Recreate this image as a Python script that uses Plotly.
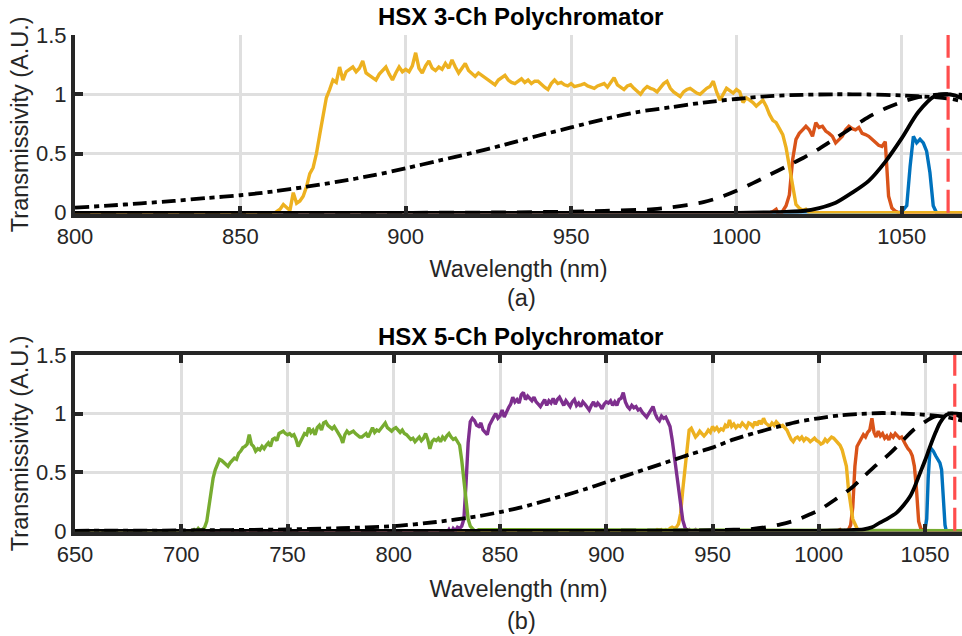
import plotly.graph_objects as go

# ---------------- data: top panel (3-Ch) ----------------
top_yel_start = 856
top_yel_y = [
    0.0, 0.0, 0.0, 0.0, -0.01, 0.01, 0.03, 0.07, 0.04, 0.02,          # 856-865
    0.17, 0.08, 0.10, 0.14, 0.22, 0.33, 0.38, 0.50, 0.66, 0.80,       # 866-875
    0.97, 1.04, 1.12, 1.10, 1.23, 1.12, 1.19, 1.21, 1.23, 1.19,       # 876-885
    1.22, 1.28, 1.18, 1.16, 1.14, 1.12, 1.17, 1.20, 1.23, 1.17,       # 886-895
    1.12, 1.18, 1.23, 1.19, 1.21, 1.19, 1.24, 1.35, 1.22, 1.18,       # 896-905
    1.24, 1.28, 1.22, 1.20, 1.23, 1.21, 1.26, 1.22, 1.29, 1.23,       # 906-915
    1.18, 1.22, 1.26, 1.20, 1.17, 1.15, 1.18, 1.16, 1.14, 1.12,       # 916-925
    1.10, 1.08, 1.12, 1.14, 1.16, 1.12, 1.10, 1.09, 1.11, 1.13,       # 926-935
    1.10, 1.12, 1.09, 1.11, 1.11, 1.08, 1.06, 1.04, 1.09, 1.12,       # 936-945
    1.09, 1.10, 1.08, 1.07, 1.09, 1.065, 1.07, 1.08, 1.09, 1.07,      # 946-955
    1.06, 1.05, 1.07, 1.08, 1.09, 1.06, 1.10, 1.14, 1.08, 1.06,       # 956-965
    1.04, 1.07, 1.08, 1.05, 1.02, 1.00, 1.04, 1.065, 1.05, 1.04,      # 966-975
    1.02, 1.06, 1.09, 1.11, 1.05, 1.02, 1.00, 0.98, 1.02, 1.04,       # 976-985
    1.05, 1.03, 1.01, 1.00, 1.03, 1.05, 1.065, 1.11, 1.02, 0.95,      # 986-995
    1.00, 1.05, 1.03, 1.01, 1.04, 1.02, 0.93, 0.97, 0.95, 0.93,       # 996-1005
    0.90, 0.93, 0.95, 0.90, 0.83, 0.78, 0.76, 0.71, 0.66, 0.55,       # 1006-1015
    0.38, 0.20, 0.07, 0.04, 0.02, 0.03, 0.0, 0.0,                     # 1016-1023
]
top_org_start = 1010
top_org_y = [
    0.0, 0.01, 0.03, -0.03, 0.02, 0.06, 0.15, 0.45, 0.62, 0.67,       # 1010-1019
    0.70, 0.73, 0.70, 0.645, 0.76, 0.72, 0.73, 0.69, 0.67, 0.645,     # 1020-1029
    0.59, 0.62, 0.645, 0.70, 0.73, 0.71, 0.70, 0.72, 0.67, 0.66,      # 1030-1039
    0.645, 0.62, 0.59, 0.57, 0.56, 0.60, 0.14, 0.04, 0.015, 0.0,      # 1040-1049
    -0.01, 0.0,                                                       # 1050-1051
]
top_blu_x = [800, 1049, 1050, 1050.5, 1051.5, 1052.5, 1053.5, 1054.5, 1055.5,
             1056.5, 1057.5, 1058.5, 1059.5, 1060.5, 1070]
top_blu_y = [0, 0, 0.01, 0.03, 0.06, 0.39, 0.645, 0.59, 0.62,
             0.59, 0.52, 0.34, 0.06, 0.0, 0]

top_dd_x = [800, 810, 820, 830, 840, 850, 860, 870, 880, 890, 900, 910, 920, 930, 940,
            950, 960, 970, 980, 990, 1000, 1010, 1020, 1030, 1040, 1050, 1060, 1065, 1070]
top_dd_y = [0.044, 0.06, 0.08, 0.10, 0.125, 0.148, 0.18, 0.22, 0.265, 0.315, 0.375, 0.44,
            0.505, 0.575, 0.65, 0.72, 0.79, 0.85, 0.89, 0.93, 0.96, 0.985, 0.995, 1.0,
            0.998, 0.99, 0.975, 0.96, 0.93]
top_ds_x = [800, 900, 930, 950, 960, 970, 975, 980, 985, 990, 995, 1000, 1005, 1010, 1015,
            1020, 1025, 1030, 1035, 1040, 1045, 1050, 1055, 1060, 1065, 1070]
top_ds_y = [0, 0, 0.003, 0.01, 0.016, 0.024, 0.03, 0.045, 0.065, 0.09, 0.13, 0.185, 0.25,
            0.32, 0.39, 0.46, 0.54, 0.63, 0.72, 0.81, 0.88, 0.935, 0.975, 0.995, 1.0, 0.99]
top_sl_x = [800, 1000, 1010, 1015, 1020, 1025, 1030, 1035, 1040, 1045, 1050, 1055, 1060,
            1063, 1066, 1070]
top_sl_y = [0, 0, 0.004, 0.008, 0.015, 0.04, 0.085, 0.17, 0.27, 0.43, 0.63, 0.85, 0.985,
            1.0, 0.99, 0.94]

# ---------------- data: bottom panel (5-Ch) ----------------
bot_grn_start = 705
bot_grn_y = [
    0.0, 0.01, -0.005, 0.02, 0.0, 0.01, 0.03, 0.08, 0.20, 0.33,       # 705-714
    0.45, 0.52, 0.57, 0.61, 0.60, 0.58, 0.57, 0.55, 0.58, 0.60,       # 715-724
    0.62, 0.61, 0.66, 0.68, 0.71, 0.72, 0.74, 0.82, 0.74, 0.72,       # 725-734
    0.68, 0.70, 0.69, 0.72, 0.70, 0.73, 0.75, 0.72, 0.78, 0.79,       # 735-744
    0.77, 0.83, 0.84, 0.85, 0.83, 0.82, 0.83, 0.81, 0.82, 0.78,       # 745-754
    0.72, 0.76, 0.80, 0.83, 0.82, 0.88, 0.84, 0.86, 0.82, 0.88,       # 755-764
    0.90, 0.86, 0.92, 0.93, 0.90, 0.88, 0.87, 0.89, 0.86, 0.84,       # 765-774
    0.80, 0.75, 0.82, 0.85, 0.83, 0.84, 0.85, 0.83, 0.81, 0.80,       # 775-784
    0.80, 0.82, 0.83, 0.80, 0.85, 0.88, 0.84, 0.86, 0.85, 0.87,       # 785-794
    0.89, 0.92, 0.88, 0.86, 0.85, 0.87, 0.88, 0.86, 0.84, 0.86,       # 795-804
    0.83, 0.82, 0.80, 0.78, 0.79, 0.76, 0.78, 0.80, 0.77, 0.79,       # 805-814
    0.83, 0.78, 0.70, 0.76, 0.78, 0.77, 0.79, 0.76, 0.80, 0.78,       # 815-824
    0.81, 0.83, 0.80, 0.78, 0.79, 0.76, 0.73, 0.60, 0.42, 0.24,       # 825-834
    0.10, 0.04, 0.02, 0.0, 0.0, 0.01,                                 # 835-840
]
bot_pur_start = 822
bot_pur_y = [
    0.0, 0.0, -0.01, -0.02, 0.01, -0.02, 0.02, 0.0, 0.03, 0.02,       # 822-831
    0.04, 0.10, 0.40, 0.75, 0.93, 0.96, 0.94, 0.90, 0.89, 0.92,       # 832-841
    0.86, 0.84, 0.82, 0.90, 0.94, 0.97, 1.00, 0.96, 0.98, 1.03,       # 842-851
    0.97, 1.02, 1.05, 1.08, 1.14, 1.10, 1.12, 1.09, 1.16, 1.18,       # 852-861
    1.12, 1.15, 1.13, 1.11, 1.14, 1.10, 1.08, 1.06, 1.09, 1.12,       # 862-871
    1.07, 1.11, 1.09, 1.13, 1.08, 1.12, 1.14, 1.10, 1.07, 1.11,       # 872-881
    1.08, 1.06, 1.10, 1.12, 1.07, 1.09, 1.06, 1.10, 1.08, 1.05,       # 882-891
    1.03, 1.07, 1.10, 1.06, 1.09, 1.07, 1.04, 1.08, 1.10, 1.09,       # 892-901
    1.11, 1.07, 1.10, 1.07, 1.12, 1.13, 1.18, 1.10, 1.06, 1.04,       # 902-911
    1.07, 1.05, 1.06, 1.03, 1.04, 1.01, 0.99, 0.97, 1.00, 1.03,       # 912-921
    1.06, 1.00, 0.96, 0.94, 0.98, 0.96, 0.97, 0.93, 0.89, 0.78,       # 922-931
    0.64, 0.47, 0.32, 0.19, 0.09, 0.03, 0.0, 0.01, -0.01, 0.0,        # 932-941
    0.01, -0.01, 0.0, 0.0,                                            # 942-945
]
bot_yel_start = 922
bot_yel_y = [
    0.0, -0.005, 0.01, 0.005, 0.01, 0.0, 0.01, 0.0, 0.02, 0.03,       # 922-931
    0.02, 0.03, 0.06, 0.15, 0.35, 0.52, 0.72, 0.86, 0.875, 0.84,      # 932-941
    0.80, 0.82, 0.85, 0.83, 0.81, 0.83, 0.86, 0.84, 0.89, 0.86,       # 942-951
    0.88, 0.85, 0.87, 0.86, 0.90, 0.88, 0.945, 0.89, 0.91, 0.88,      # 952-961
    0.90, 0.89, 0.92, 0.90, 0.88, 0.92, 0.91, 0.89, 0.93, 0.90,       # 962-971
    0.94, 0.91, 0.96, 0.92, 0.90, 0.89, 0.92, 0.90, 0.93, 0.91,       # 972-981
    0.89, 0.90, 0.875, 0.86, 0.82, 0.78, 0.76, 0.79, 0.80, 0.78,      # 982-991
    0.80, 0.77, 0.79, 0.78, 0.76, 0.775, 0.79, 0.77, 0.76, 0.74,      # 992-1001
    0.75, 0.78, 0.76, 0.78, 0.80, 0.79, 0.77, 0.75, 0.73, 0.69,       # 1002-1011
    0.63, 0.55, 0.35, 0.20, 0.10, 0.06, 0.02, 0.0, 0.0,               # 1012-1020
]
bot_org_start = 1008
bot_org_y = [
    0.0, 0.0, 0.01, -0.01, 0.0, -0.03, 0.01, 0.05, 0.20, 0.55,        # 1008-1017
    0.72, 0.75, 0.79, 0.82, 0.80, 0.84, 0.86, 0.96, 0.84, 0.80,       # 1018-1027
    0.85, 0.81, 0.83, 0.79, 0.81, 0.775, 0.82, 0.80, 0.83, 0.81,      # 1028-1037
    0.79, 0.80, 0.76, 0.73, 0.70, 0.68, 0.64, 0.55, 0.35, 0.08,       # 1038-1047
    0.02, 0.0, -0.01, 0.0,                                            # 1048-1051
]
bot_blu_x = [650, 1048, 1049, 1050, 1050.8, 1051.5, 1052.3, 1053, 1053.9, 1055, 1056.2,
             1057, 1057.8, 1058.6, 1059.4, 1060.2, 1061, 1070]
bot_blu_y = [0, 0, 0.0, 0.01, 0.10, 0.45, 0.69, 0.70, 0.68, 0.64, 0.61,
             0.58, 0.52, 0.21, 0.05, -0.02, 0.0, 0]

bot_dd_x = [650, 700, 750, 775, 800, 820, 840, 850, 860, 870, 880, 890, 900, 910, 920, 930,
            940, 950, 960, 970, 980, 990, 1000, 1010, 1020, 1030, 1040, 1050, 1060, 1070]
bot_dd_y = [0.0, 0.003, 0.012, 0.022, 0.04, 0.075, 0.125, 0.16, 0.2, 0.25, 0.3, 0.355, 0.415,
            0.475, 0.535, 0.595, 0.655, 0.71, 0.78, 0.835, 0.885, 0.93, 0.96, 0.985, 0.998,
            1.005, 1.0, 0.99, 0.97, 0.93]
bot_ds_x = [650, 900, 940, 950, 960, 966, 975, 982, 990, 997, 1000, 1008, 1015, 1021, 1027,
            1033.5, 1039, 1044.5, 1050, 1054, 1060, 1065, 1070]
bot_ds_y = [0, 0, 0.003, 0.006, 0.01, 0.012, 0.03, 0.055, 0.095, 0.15, 0.175, 0.27, 0.36,
            0.46, 0.56, 0.66, 0.76, 0.86, 0.93, 0.97, 1.0, 1.0, 0.99]
bot_sl_x = [650, 1000, 1010, 1015, 1021, 1025, 1028.8, 1032, 1036.7, 1040, 1043, 1045,
            1047.6, 1050, 1052.4, 1055, 1057, 1060, 1063, 1066, 1070]
bot_sl_y = [0, 0, 0.003, 0.006, 0.012, 0.03, 0.07, 0.10, 0.155, 0.22, 0.295, 0.37,
            0.49, 0.60, 0.72, 0.84, 0.92, 0.99, 1.0, 0.98, 0.94]

laser_wl = 1064
y_ticks = [0, 0.5, 1, 1.5]
y_tick_text = ["0", "0.5", "1", "1.5"]
top_x_ticks = [800, 850, 900, 950, 1000, 1050]
bot_x_ticks = [650, 700, 750, 800, 850, 900, 950, 1000, 1050]
titles = ["HSX 3-Ch Polychromator", "HSX 5-Ch Polychromator"]
x_title = "Wavelength (nm)"
y_title = "Transmissivity (A.U.)"
panel_labels = ["(a)", "(b)"]

# ---------------- styling ----------------
BLUE, ORANGE, YELLOW, PURPLE, GREEN = "#0072BD", "#D95319", "#EDB120", "#7E2F8E", "#77AC30"
RED = "#FF4D4D"
AXC = "#262626"
GRID = "#DFDFDF"
FONT = "Liberation Sans, Arial, sans-serif"
W, H = 962, 636
ML = 75
LW_COL = 3.4
LW_BLK = 3.8


def grid_x(start, ys):
    return list(range(start, start + len(ys)))


def filt(x, y, color, xa, ya):
    return go.Scatter(x=x, y=y, mode="lines", line=dict(color=color, width=LW_COL),
                      xaxis=xa, yaxis=ya, showlegend=False, hoverinfo="skip")


def smooth(x, y, dash, xa, ya):
    return go.Scatter(x=x, y=y, mode="lines",
                      line=dict(color="black", width=LW_BLK, dash=dash, shape="spline", smoothing=0.8),
                      xaxis=xa, yaxis=ya, showlegend=False, hoverinfo="skip")


fig = go.Figure()
# top panel
tx0 = 800
fig.add_trace(filt(top_blu_x, top_blu_y, BLUE, "x", "y"))
fig.add_trace(filt([tx0] + grid_x(top_org_start, top_org_y) + [1070], [0] + top_org_y + [0], ORANGE, "x", "y"))
fig.add_trace(filt([tx0] + grid_x(top_yel_start, top_yel_y) + [1070], [0] + top_yel_y + [0], YELLOW, "x", "y"))
fig.add_trace(smooth(top_dd_x, top_dd_y, "14px,5px,5px,5px", "x", "y"))
fig.add_trace(smooth(top_ds_x, top_ds_y, "15px,11px", "x", "y"))
fig.add_trace(smooth(top_sl_x, top_sl_y, "solid", "x", "y"))
fig.add_trace(go.Scatter(x=[laser_wl, laser_wl], y=[0, 1.5], mode="lines",
                         line=dict(color=RED, width=3.2, dash="23px,8px"),
                         xaxis="x", yaxis="y", showlegend=False, hoverinfo="skip"))

# bottom panel
bx0 = 650
fig.add_trace(filt(bot_blu_x, bot_blu_y, BLUE, "x2", "y2"))
fig.add_trace(filt([bx0] + grid_x(bot_org_start, bot_org_y) + [1070], [0] + bot_org_y + [0], ORANGE, "x2", "y2"))
fig.add_trace(filt([bx0] + grid_x(bot_yel_start, bot_yel_y) + [1070], [0] + bot_yel_y + [0], YELLOW, "x2", "y2"))
fig.add_trace(filt([bx0] + grid_x(bot_pur_start, bot_pur_y) + [1070], [0] + bot_pur_y + [0], PURPLE, "x2", "y2"))
fig.add_trace(filt([bx0] + grid_x(bot_grn_start, bot_grn_y) + [1070], [0] + bot_grn_y + [0], GREEN, "x2", "y2"))
fig.add_trace(smooth(bot_dd_x, bot_dd_y, "14px,5px,5px,5px", "x2", "y2"))
fig.add_trace(smooth(bot_ds_x, bot_ds_y, "15px,11px", "x2", "y2"))
fig.add_trace(smooth(bot_sl_x, bot_sl_y, "solid", "x2", "y2"))
fig.add_trace(go.Scatter(x=[laser_wl, laser_wl], y=[0, 1.5], mode="lines",
                         line=dict(color=RED, width=3.2, dash="23px,8px"),
                         xaxis="x2", yaxis="y2", showlegend=False, hoverinfo="skip"))


def py(px):
    return 1 - px / H


def pxx(px):
    return (px - ML) / (W - ML)


common_axis = dict(showgrid=True, gridcolor=GRID, gridwidth=3, showline=True, linecolor=AXC,
                   linewidth=4, ticks="inside", ticklen=8, tickwidth=3.5, tickcolor=AXC,
                   tickfont=dict(family=FONT, size=22, color=AXC), zeroline=False,
                   automargin=False)

fig.update_layout(
    template="none",
    width=W, height=H,
    margin=dict(l=ML, r=0, t=0, b=0, pad=0, autoexpand=False),
    paper_bgcolor="white", plot_bgcolor="white",
    font=dict(family=FONT, color=AXC),
    showlegend=False,
    xaxis=dict(domain=[0, 1], range=[800, 1068.2], tickvals=top_x_ticks, anchor="y",
               title=dict(text=x_title, font=dict(family=FONT, size=23.5, color=AXC), standoff=14),
               **common_axis),
    yaxis=dict(domain=[py(213.5), py(35)], range=[-0.006, 1.5], tickvals=y_ticks,
               ticktext=y_tick_text, anchor="x",
               title=dict(text=y_title, font=dict(family=FONT, size=23.5, color=AXC), standoff=2),
               **common_axis),
    xaxis2=dict(domain=[0, 1], range=[650, 1067.4], tickvals=bot_x_ticks, anchor="y2",
                mirror="ticks",
                title=dict(text=x_title, font=dict(family=FONT, size=23.5, color=AXC), standoff=16),
                **common_axis),
    yaxis2=dict(domain=[py(531.5), py(355)], range=[-0.006, 1.5], tickvals=y_ticks,
                ticktext=y_tick_text, anchor="x2",
                title=dict(text=y_title, font=dict(family=FONT, size=23.5, color=AXC), standoff=2),
                **common_axis),
)

ann = []
for text, ypx in [(titles[0], 16.5), (titles[1], 336.5)]:
    ann.append(dict(text="<b>%s</b>" % text, x=pxx(520.5), y=py(ypx), xref="paper", yref="paper",
                    xanchor="center", yanchor="middle", showarrow=False,
                    font=dict(family=FONT, size=24, color="black")))
for text, ypx in [(panel_labels[0], 298), (panel_labels[1], 621)]:
    ann.append(dict(text=text, x=pxx(521), y=py(ypx), xref="paper", yref="paper",
                    xanchor="center", yanchor="middle", showarrow=False,
                    font=dict(family=FONT, size=23.5, color=AXC)))
fig.update_layout(annotations=ann)

fig.write_html("out.html")
